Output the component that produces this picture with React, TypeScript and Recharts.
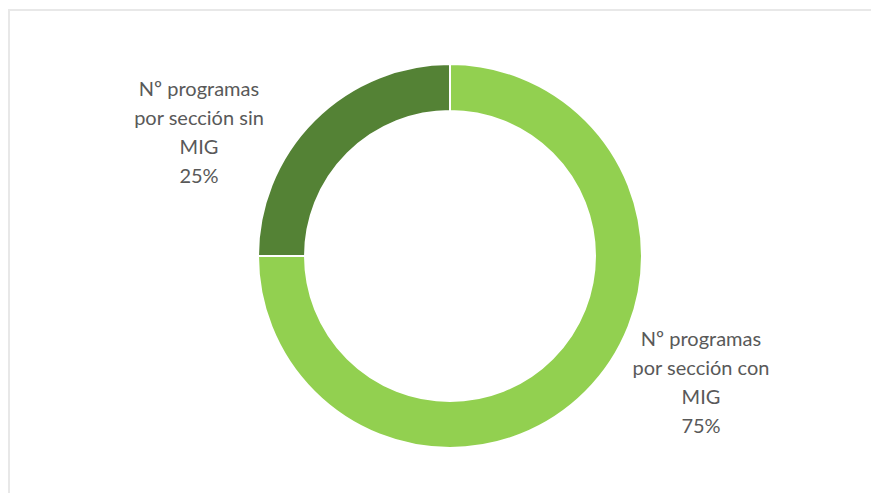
import { PieChart, Pie, Cell } from "recharts";

// share of programmes per section, with / without MIG
const categories = ["Nº programas por sección con MIG", "Nº programas por sección sin MIG"];
const labelLines = [
  ["Nº programas", "por sección con", "MIG"],
  ["Nº programas", "por sección sin", "MIG"],
];
const shares = [75, 25];
const colors = ["#92D050", "#548235"];

const data = categories.map((name, i) => ({ name, value: shares[i] }));

const renderLabel = (props: any) => {
  const { cx, cy, midAngle, outerRadius, index, percent } = props;
  const rad = (Math.PI / 180) * midAngle;
  const sx = Math.sign(Math.cos(rad));
  const sy = Math.sign(Math.sin(rad));
  const x = cx + sx * (outerRadius + 59);
  const y = cy - sy * 125;
  const lines = [...labelLines[index], `${Math.round(percent * 100)}%`];
  const lh = 29;
  const top = y - ((lines.length - 1) * lh) / 2;
  return (
    <text
      x={x}
      y={top}
      textAnchor="middle"
      dominantBaseline="central"
      fill="#595959"
      fontSize={20}
      fontFamily="Lato, 'Open Sans', sans-serif"
    >
      {lines.map((l, i) => (
        <tspan key={i} x={x} y={top + i * lh}>
          {l}
        </tspan>
      ))}
    </text>
  );
};

export default function App() {
  return (
    <div
      style={{
        width: 880,
        height: 490,
        marginTop: 1,
        borderTop: "2px solid #e8e8e8",
        borderLeft: "2px solid #e8e8e8",
        background: "#fff",
      }}
    >
      <PieChart width={869} height={480}>
        <Pie
          data={data}
          dataKey="value"
          nameKey="name"
          cx={435}
          cy={240}
          outerRadius={192}
          innerRadius={145}
          startAngle={90}
          endAngle={-270}
          stroke="#fff"
          strokeWidth={2}
          label={renderLabel}
          labelLine={false}
          isAnimationActive={false}
        >
          {data.map((d, i) => (
            <Cell key={d.name} fill={colors[i]} />
          ))}
        </Pie>
      </PieChart>
    </div>
  );
}
